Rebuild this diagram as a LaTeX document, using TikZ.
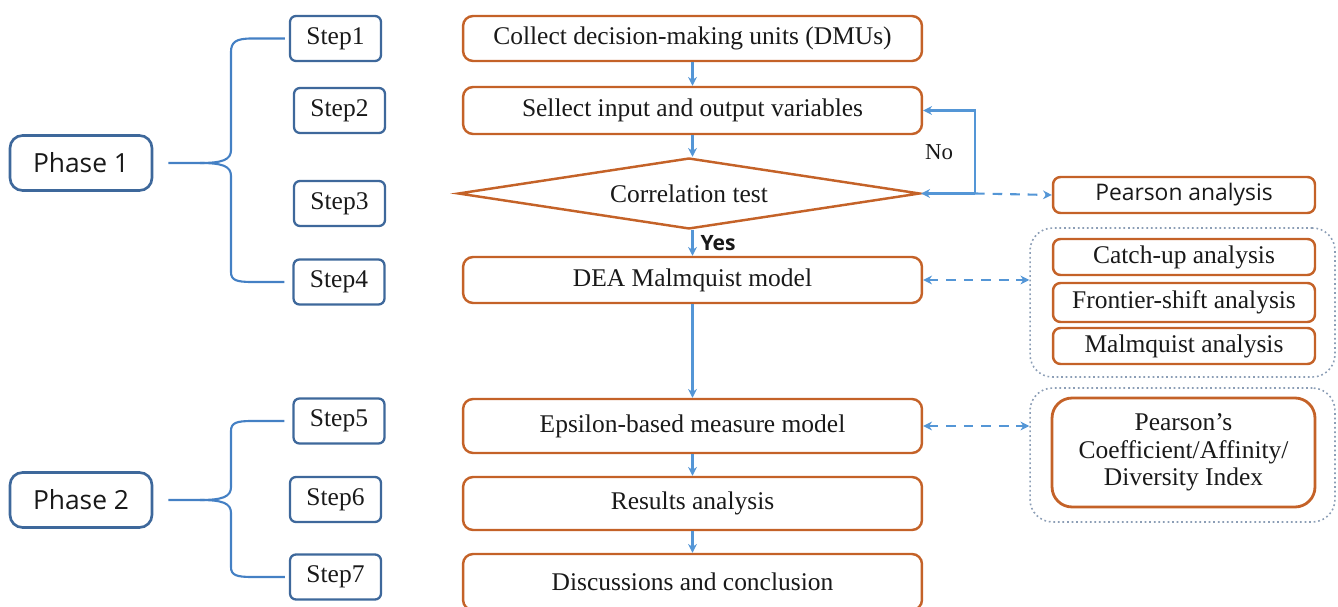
\documentclass[tikz,border=0pt]{standalone}
\usepackage{fontspec}
\setmainfont{Liberation Serif}
\newfontfamily\sansf{Open Sans}
\usetikzlibrary{arrows.meta,shapes.geometric,calc}
\definecolor{orng}{RGB}{196,98,40}
\definecolor{stepblue}{RGB}{62,104,155}
\definecolor{braceblue}{RGB}{68,128,196}
\definecolor{arrowblue}{RGB}{84,150,214}
\definecolor{dotgray}{RGB}{140,158,182}
\definecolor{txt}{RGB}{25,25,25}
\begin{document}
\begin{tikzpicture}[x=0.02cm,y=-0.02cm,
  serif/.style={font=\fontsize{14.5}{15.5}\selectfont, text=txt},
  sans/.style={font=\sansf\fontsize{13}{15}\selectfont, text=txt},
  phasebox/.style={draw=stepblue, line width=1.5pt, rounded corners=0.25cm, minimum width=2.84cm, minimum height=1.1cm, font=\sansf\fontsize{15}{17}\selectfont, text=txt},
  stepbox/.style={draw=stepblue, line width=1.3pt, rounded corners=0.12cm, minimum width=1.82cm, minimum height=0.9cm, serif},
  mainbox/.style={draw=orng, line width=1.4pt, rounded corners=0.2cm, minimum width=9.18cm, serif},
  sidebox/.style={draw=orng, line width=1.4pt, rounded corners=0.15cm, minimum width=5.24cm, serif},
  group/.style={draw=dotgray, line width=0.9pt, dash pattern=on 1pt off 1.6pt, rounded corners=0.45cm},
  flow/.style={draw=arrowblue, line width=1.2pt, -{Stealth[length=5pt,width=5pt]}},
  brace/.style={draw=braceblue, line width=1.2pt},
  dash2/.style={dash pattern=on 5.5pt off 4.5pt}
]
\useasboundingbox (0,0) rectangle (1338,607);

% Phases and steps
\node[phasebox] (ph1) at (81,163) {Phase 1};
\node[phasebox] (ph2) at (81,500) {Phase 2};
\node[stepbox] (s1) at (335.5,38.5) {Step1};
\node[stepbox] (s2) at (339.5,110.5) {Step2};
\node[stepbox] (s3) at (339.5,203.5) {Step3};
\node[stepbox] (s4) at (339,282) {Step4};
\node[stepbox] (s5) at (339,421) {Step5};
\node[stepbox] (s6) at (335.5,499.5) {Step6};
\node[stepbox] (s7) at (335.5,577) {Step7};

% Braces
\draw[brace] ([xshift=0.3cm]ph1.east) -- (200,163)
  .. controls (222,163) and (231,160) .. (231,150) -- (231,52)
  .. controls (231,42) and (236,38.5) .. (252,38.5) -- ([xshift=-0.08cm]s1.west);
\draw[brace] (200,163)
  .. controls (222,163) and (231,166) .. (231,176) -- (231,272)
  .. controls (231,280) and (236,282) .. (252,282) -- ([xshift=-0.16cm]s4.west);
\draw[brace] ([xshift=0.3cm]ph2.east) -- (200,500)
  .. controls (222,500) and (231,497) .. (231,487) -- (231,431)
  .. controls (231,423) and (236,421) .. (252,421) -- ([xshift=-0.16cm]s5.west);
\draw[brace] (200,500)
  .. controls (222,500) and (231,503) .. (231,513) -- (231,567)
  .. controls (231,575) and (236,577) .. (252,577) -- ([xshift=-0.08cm]s7.west);

% Main flow
\node[mainbox, minimum height=0.9cm] (b1) at (692.5,38.5) {Collect decision-making units (DMUs)};
\node[mainbox, minimum height=0.94cm] (b2) at (692.5,110.5) {Sellect input and output variables};
\node[diamond, draw=orng, line width=1.4pt, aspect=6.5, inner sep=0pt, minimum width=9.24cm, minimum height=1.42cm, serif] (d) at (689,193.5) {Correlation test};
\node[mainbox, minimum height=0.92cm] (b4) at (692.5,280) {DEA Malmquist model};
\node[mainbox, minimum height=1.08cm] (b5) at (692.5,426) {Epsilon-based measure model};
\node[mainbox, minimum height=1.06cm] (b6) at (692.5,503.5) {Results analysis};
\node[mainbox, minimum height=1.12cm] (b7) at (692.5,582) {Discussions and conclusion};

\draw[flow] (b1.south) -- (b2.north);
\draw[flow] (b2.south) -- (b2.south |- d.north);
\draw[flow] (d.south -| b4.north) -- node[right, font=\sansf\bfseries\fontsize{12}{14}\selectfont, text=txt, inner sep=4pt]{Yes} (b4.north);
\draw[flow] (b4.south) -- (b5.north);
\draw[flow] (b5.south) -- (b6.north);
\draw[flow] (b6.south) -- (b7.north);

% Loop and Pearson
\node[sidebox, minimum height=0.72cm, sans] (pa) at (1184,195) {Pearson analysis};
\coordinate (j) at (975,193.5);
\draw[flow] (j) -- (d.east);
\draw[flow] (j) |- node[pos=0.25, left, xshift=-0.3cm, text=txt, font=\fontsize{13}{15}\selectfont]{No} (b2.east);
\draw[flow, dash2] (j) -- (pa.west);

% Group 1
\node[group, minimum width=6.1cm, minimum height=2.98cm] (g1) at (1182.5,302.5) {};
\node[sidebox, minimum height=0.72cm] (cu) at (1184,257) {Catch-up analysis};
\node[sidebox, minimum height=0.78cm] (fs) at (1184,302.5) {Frontier-shift analysis};
\node[sidebox, minimum height=0.72cm] (ma) at (1184,346) {Malmquist analysis};
\draw[flow, dash2, {Stealth[length=5pt,width=5pt]}-{Stealth[length=5pt,width=5pt]}] (b4.east) -- (b4.east -| g1.west);

% Group 2
\node[group, minimum width=6.1cm, minimum height=2.68cm] (g2) at (1182.5,455) {};
\node[draw=orng, line width=1.6pt, rounded corners=0.4cm, minimum width=5.26cm, minimum height=2.18cm, align=center, font=\fontsize{14.5}{15.5}\selectfont, text=txt] (pc) at (1183.5,452.5) {Pearson’s\\Coefficient/Affinity/\\Diversity Index};
\draw[flow, dash2, {Stealth[length=5pt,width=5pt]}-{Stealth[length=5pt,width=5pt]}] (b5.east) -- (b5.east -| g2.west);

\end{tikzpicture}
\end{document}
